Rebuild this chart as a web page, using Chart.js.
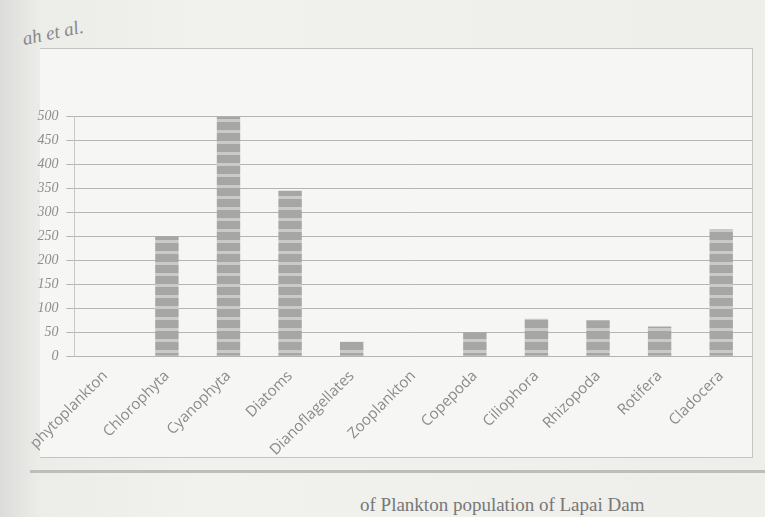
<!DOCTYPE html>
<html lang="en">
<head>
  <meta charset="UTF-8">
  <title>Plankton population of Lapai Dam</title>
  <script src="https://cdn.jsdelivr.net/npm/chart.js"></script>
  <style>
    body {
      margin: 0;
      width: 765px;
      height: 517px;
      overflow: hidden;
      background: linear-gradient(to right, #dcdcda 0px, #ecece9 40px, #f1f1ee 200px, #eeeeeb 765px);
      font-family: "Open Sans", sans-serif;
      position: relative;
    }
    #author {
      position: absolute;
      left: 22px;
      top: 22px;
      font-family: "Liberation Serif", serif;
      font-style: italic;
      font-size: 19px;
      color: #888;
      transform: rotate(-12deg);
    }
    #frame {
      position: absolute;
      left: 40px;
      top: 48px;
      width: 712px;
      height: 408px;
      border: 1px solid #c4c4c2;
      border-left: none;
      background: #f6f6f4;
    }
    #rule {
      position: absolute;
      left: 30px;
      top: 470px;
      width: 735px;
      border-top: 3px solid #bdbdbb;
    }
    #caption {
      position: absolute;
      left: 360px;
      top: 494px;
      font-family: "Liberation Serif", serif;
      font-size: 19px;
      color: #777;
      white-space: nowrap;
    }
    #wrap {
      position: absolute;
      left: 28px;
      top: 100px;
      width: 724px;
      height: 362px;
    }
  </style>
</head>
<body>
  <div id="author">ah et al.</div>
  <div id="frame"></div>
  <div id="rule"></div>
  <div id="caption">of Plankton population of Lapai Dam</div>
  <div id="wrap"><canvas id="myChart"></canvas></div>

  <script>
    // categories and counts
    const groups = ['phytoplankton', 'Chlorophyta', 'Cyanophyta', 'Diatoms', 'Dianoflagellates',
      'Zooplankton', 'Copepoda', 'Ciliophora', 'Rhizopoda', 'Rotifera', 'Cladocera'];
    const counts = [0, 250, 500, 345, 30, 0, 50, 78, 75, 62, 265];
    const yTicks = [0, 50, 100, 150, 200, 250, 300, 350, 400, 450, 500];

    // striped grey fill like the printed bars
    function stripes() {
      const c = document.createElement('canvas');
      c.width = 8;
      c.height = 11;
      const g = c.getContext('2d');
      g.fillStyle = '#a6a6a5';
      g.fillRect(0, 0, 8, 11);
      g.fillStyle = '#cacac8';
      g.fillRect(0, 8, 8, 3);
      return g.createPattern(c, 'repeat');
    }

    const ctx = document.getElementById('myChart').getContext('2d');
    new Chart(ctx, {
      type: 'bar',
      data: {
        labels: groups,
        datasets: [{
          data: counts,
          backgroundColor: stripes(),
          borderWidth: 0,
          barPercentage: 0.38,
          categoryPercentage: 1
        }]
      },
      options: {
        responsive: true,
        maintainAspectRatio: false,
        animation: false,
        plugins: { legend: { display: false }, tooltip: { enabled: false } },
        scales: {
          x: {
            grid: { display: false },
            border: { display: false },
            ticks: {
              color: '#8a8a8a',
              font: { size: 15, family: 'Open Sans' },
              minRotation: 45,
              maxRotation: 45,
              autoSkip: false
            }
          },
          y: {
            min: 0,
            max: 500,
            afterBuildTicks: (axis) => { axis.ticks = yTicks.map(v => ({ value: v })); },
            grid: { color: '#b5b5b3', lineWidth: 1 },
            border: { color: '#c8c8c6' },
            ticks: {
              color: '#8e8e8e',
              font: { size: 14, family: 'Liberation Serif', style: 'italic' },
              padding: 8
            }
          }
        }
      }
    });
  </script>
</body>
</html>
